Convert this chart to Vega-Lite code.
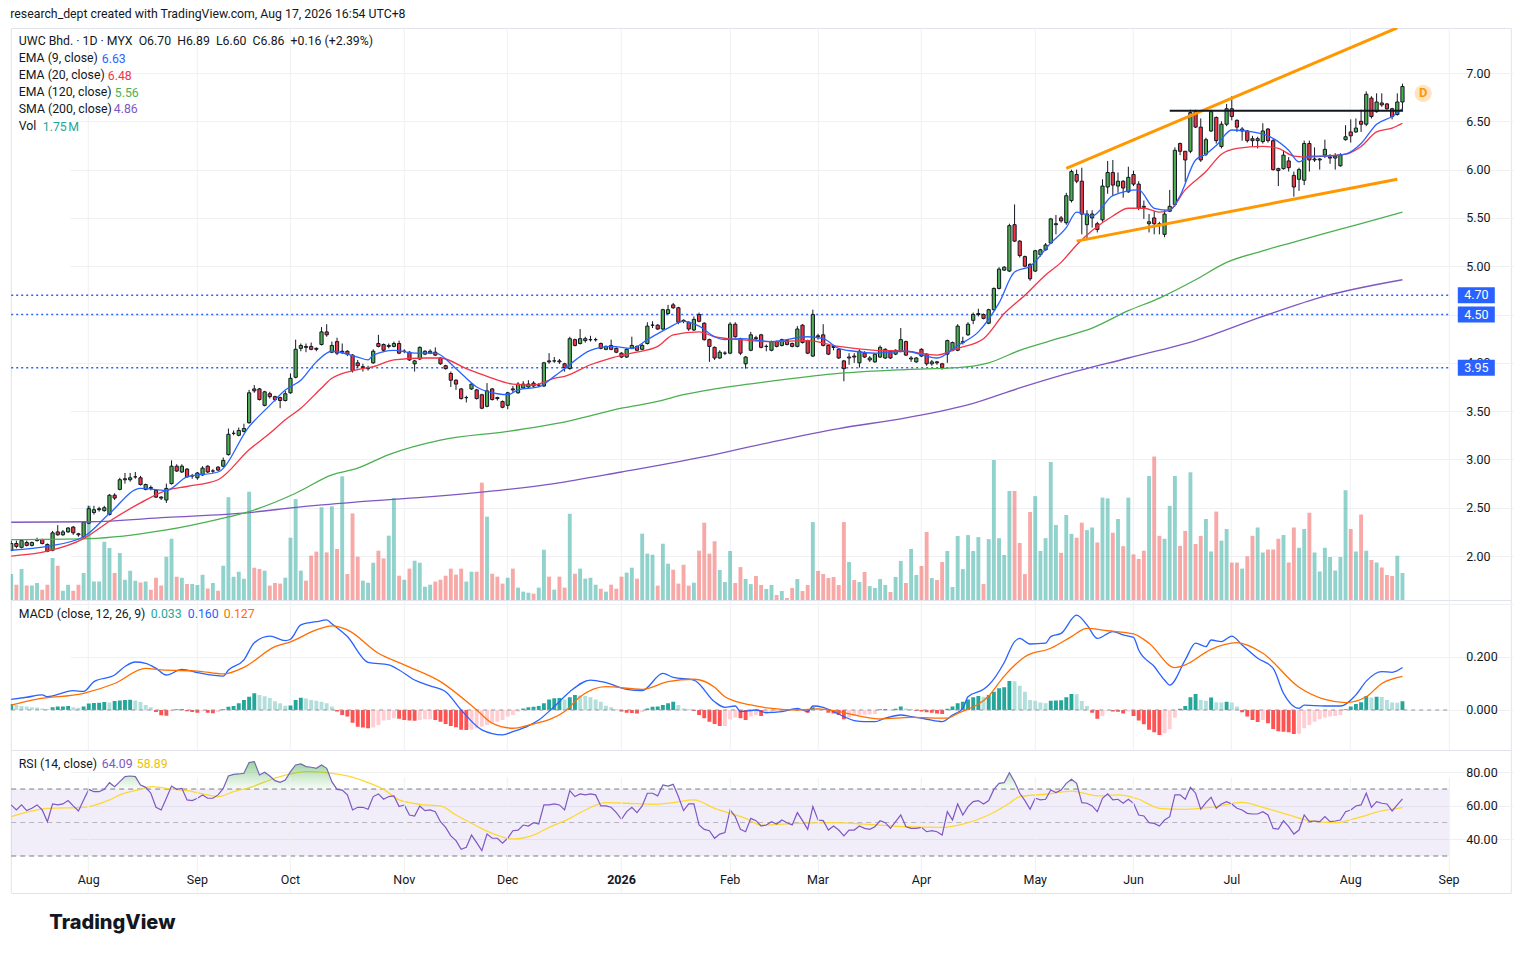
{
  "$schema": "https://vega.github.io/schema/vega-lite/v6.json",
  "background": "white",
  "padding": {"left": 7.8, "top": 8, "right": 10, "bottom": 10},
  "title": {"text": "research_dept created with TradingView.com, Aug 17, 2026 16:54 UTC+8", "anchor": "start", "fontSize": 12.3, "fontWeight": "normal", "color": "#131722", "offset": 7, "dx": 2.2},
  "bounds": "flush",
  "spacing": 0,
  "config": {
    "font": "Roboto",
    "view": {"stroke": "#e0e3eb"},
    "axis": {"labelFont": "Roboto", "labelFontSize": 12.5, "labelColor": "#131722", "gridColor": "#eef0f3", "domain": false, "ticks": false, "tickSize": 0},
    "text": {"font": "Roboto", "fontSize": 12.3}
  },
  "datasets": {
    "bars": [
      {"d":"2025-07-11","o":2.06,"h":2.16,"l":2.05,"c":2.13,"v":1.68,"m":0.023,"r":60.5},
      {"d":"2025-07-14","o":2.13,"h":2.16,"l":2.08,"c":2.10,"v":0.99,"m":0.019,"r":57.5},
      {"d":"2025-07-15","o":2.09,"h":2.17,"l":2.08,"c":2.16,"v":2.0,"m":0.015,"r":60.5},
      {"d":"2025-07-16","o":2.14,"h":2.16,"l":2.10,"c":2.11,"v":0.93,"m":0.013,"r":57.1},
      {"d":"2025-07-17","o":2.11,"h":2.15,"l":2.10,"c":2.14,"v":0.93,"m":0.010,"r":58.5},
      {"d":"2025-07-18","o":2.16,"h":2.19,"l":2.15,"c":2.17,"v":1.1,"m":0.009,"r":60.5},
      {"d":"2025-07-21","o":2.17,"h":2.18,"l":2.12,"c":2.13,"v":0.67,"m":0.006,"r":57.5},
      {"d":"2025-07-22","o":2.12,"h":2.13,"l":2.04,"c":2.05,"v":0.99,"m":0.004,"r":50.5},
      {"d":"2025-07-23","o":2.06,"h":2.26,"l":2.05,"c":2.24,"v":2.72,"m":0.010,"r":61.1},
      {"d":"2025-07-24","o":2.25,"h":2.32,"l":2.21,"c":2.22,"v":2.22,"m":0.013,"r":60.5},
      {"d":"2025-07-25","o":2.22,"h":2.27,"l":2.21,"c":2.25,"v":0.6,"m":0.013,"r":61.1},
      {"d":"2025-07-28","o":2.25,"h":2.30,"l":2.24,"c":2.29,"v":0.99,"m":0.015,"r":63.1},
      {"d":"2025-07-29","o":2.30,"h":2.31,"l":2.22,"c":2.24,"v":0.6,"m":0.010,"r":59.9},
      {"d":"2025-07-30","o":2.23,"h":2.24,"l":2.20,"c":2.22,"v":0.99,"m":0.008,"r":56.9},
      {"d":"2025-07-31","o":2.20,"h":2.36,"l":2.19,"c":2.35,"v":1.75,"m":0.013,"r":63.5},
      {"d":"2025-08-01","o":2.34,"h":2.52,"l":2.33,"c":2.49,"v":6.1,"m":0.024,"r":69.8},
      {"d":"2025-08-04","o":2.45,"h":2.52,"l":2.43,"c":2.48,"v":1.19,"m":0.026,"r":68.4},
      {"d":"2025-08-05","o":2.48,"h":2.51,"l":2.46,"c":2.49,"v":1.19,"m":0.027,"r":68.4},
      {"d":"2025-08-06","o":2.47,"h":2.52,"l":2.46,"c":2.50,"v":3.77,"m":0.030,"r":69.8},
      {"d":"2025-08-07","o":2.43,"h":2.64,"l":2.42,"c":2.63,"v":3.36,"m":0.028,"r":73.8},
      {"d":"2025-08-08","o":2.63,"h":2.65,"l":2.58,"c":2.60,"v":1.75,"m":0.034,"r":71.4},
      {"d":"2025-08-11","o":2.69,"h":2.81,"l":2.68,"c":2.79,"v":3.04,"m":0.036,"r":74.4},
      {"d":"2025-08-12","o":2.79,"h":2.86,"l":2.75,"c":2.80,"v":1.31,"m":0.038,"r":77.4},
      {"d":"2025-08-13","o":2.79,"h":2.86,"l":2.77,"c":2.81,"v":1.9,"m":0.039,"r":77.8},
      {"d":"2025-08-14","o":2.82,"h":2.87,"l":2.80,"c":2.82,"v":1.25,"m":0.036,"r":77.4},
      {"d":"2025-08-15","o":2.81,"h":2.83,"l":2.73,"c":2.74,"v":1.14,"m":0.030,"r":72.4},
      {"d":"2025-08-18","o":2.69,"h":2.75,"l":2.68,"c":2.74,"v":1.19,"m":0.019,"r":71.0},
      {"d":"2025-08-19","o":2.71,"h":2.73,"l":2.68,"c":2.70,"v":0.67,"m":0.010,"r":67.5},
      {"d":"2025-08-20","o":2.68,"h":2.69,"l":2.60,"c":2.61,"v":1.44,"m":-0.008,"r":59.1},
      {"d":"2025-08-21","o":2.61,"h":2.62,"l":2.58,"c":2.60,"v":0.93,"m":-0.020,"r":57.5},
      {"d":"2025-08-22","o":2.58,"h":2.75,"l":2.55,"c":2.70,"v":2.8,"m":-0.022,"r":64.5},
      {"d":"2025-08-25","o":2.75,"h":2.99,"l":2.74,"c":2.93,"v":3.97,"m":-0.005,"r":71.8},
      {"d":"2025-08-26","o":2.93,"h":2.95,"l":2.87,"c":2.88,"v":1.5,"m":0.003,"r":69.8},
      {"d":"2025-08-27","o":2.87,"h":2.95,"l":2.86,"c":2.93,"v":1.44,"m":0.004,"r":70.4},
      {"d":"2025-08-28","o":2.90,"h":2.91,"l":2.81,"c":2.82,"v":1.03,"m":-0.005,"r":63.5},
      {"d":"2025-08-29","o":2.83,"h":2.85,"l":2.80,"c":2.83,"v":1.03,"m":-0.008,"r":63.1},
      {"d":"2025-09-02","o":2.81,"h":2.87,"l":2.79,"c":2.86,"v":0.97,"m":-0.010,"r":64.5},
      {"d":"2025-09-03","o":2.84,"h":2.93,"l":2.83,"c":2.91,"v":1.64,"m":-0.005,"r":66.5},
      {"d":"2025-09-04","o":2.93,"h":2.94,"l":2.86,"c":2.87,"v":0.75,"m":-0.010,"r":64.5},
      {"d":"2025-09-08","o":2.88,"h":2.90,"l":2.86,"c":2.88,"v":1.1,"m":-0.012,"r":64.5},
      {"d":"2025-09-09","o":2.92,"h":2.93,"l":2.88,"c":2.89,"v":0.6,"m":-0.008,"r":66.5},
      {"d":"2025-09-10","o":2.93,"h":3.02,"l":2.92,"c":2.99,"v":2.22,"m":0.003,"r":70.4},
      {"d":"2025-09-11","o":3.05,"h":3.32,"l":3.04,"c":3.26,"v":6.64,"m":0.012,"r":77.8},
      {"d":"2025-09-12","o":3.27,"h":3.30,"l":3.25,"c":3.27,"v":1.5,"m":0.015,"r":78.8},
      {"d":"2025-09-17","o":3.25,"h":3.33,"l":3.24,"c":3.30,"v":1.83,"m":0.025,"r":79.0},
      {"d":"2025-09-18","o":3.29,"h":3.37,"l":3.28,"c":3.32,"v":1.38,"m":0.038,"r":79.4},
      {"d":"2025-09-19","o":3.38,"h":3.72,"l":3.37,"c":3.69,"v":7.0,"m":0.050,"r":85.8},
      {"d":"2025-09-22","o":3.73,"h":3.77,"l":3.69,"c":3.71,"v":2.09,"m":0.063,"r":86.4},
      {"d":"2025-09-23","o":3.73,"h":3.74,"l":3.61,"c":3.62,"v":2.0,"m":0.057,"r":78.4},
      {"d":"2025-09-24","o":3.56,"h":3.71,"l":3.55,"c":3.70,"v":1.9,"m":0.052,"r":80.0},
      {"d":"2025-09-25","o":3.68,"h":3.70,"l":3.63,"c":3.65,"v":0.93,"m":0.045,"r":77.8},
      {"d":"2025-09-26","o":3.65,"h":3.66,"l":3.60,"c":3.62,"v":1.1,"m":0.033,"r":75.0},
      {"d":"2025-09-29","o":3.64,"h":3.65,"l":3.53,"c":3.61,"v":1.06,"m":0.025,"r":74.0},
      {"d":"2025-09-30","o":3.61,"h":3.71,"l":3.60,"c":3.68,"v":1.44,"m":0.016,"r":75.4},
      {"d":"2025-10-01","o":3.69,"h":3.89,"l":3.68,"c":3.84,"v":4.03,"m":0.017,"r":80.4},
      {"d":"2025-10-02","o":3.85,"h":4.24,"l":3.84,"c":4.14,"v":6.53,"m":0.038,"r":84.4},
      {"d":"2025-10-03","o":4.15,"h":4.20,"l":4.12,"c":4.18,"v":1.9,"m":0.046,"r":85.0},
      {"d":"2025-10-06","o":4.17,"h":4.20,"l":4.11,"c":4.16,"v":1.25,"m":0.043,"r":83.4},
      {"d":"2025-10-07","o":4.17,"h":4.21,"l":4.13,"c":4.14,"v":2.87,"m":0.038,"r":83.0},
      {"d":"2025-10-08","o":4.15,"h":4.16,"l":4.12,"c":4.14,"v":3.13,"m":0.035,"r":82.4},
      {"d":"2025-10-09","o":4.19,"h":4.37,"l":4.18,"c":4.32,"v":6.0,"m":0.031,"r":84.4},
      {"d":"2025-10-10","o":4.32,"h":4.40,"l":4.27,"c":4.29,"v":3.08,"m":0.025,"r":82.4},
      {"d":"2025-10-13","o":4.11,"h":4.22,"l":4.10,"c":4.18,"v":6.06,"m":0.013,"r":74.4},
      {"d":"2025-10-14","o":4.22,"h":4.26,"l":4.08,"c":4.10,"v":3.3,"m":-0.006,"r":69.8},
      {"d":"2025-10-15","o":4.11,"h":4.20,"l":4.09,"c":4.12,"v":8.0,"m":-0.019,"r":69.4},
      {"d":"2025-10-16","o":4.12,"h":4.13,"l":4.07,"c":4.09,"v":1.68,"m":-0.025,"r":66.5},
      {"d":"2025-10-17","o":4.08,"h":4.09,"l":3.90,"c":3.92,"v":5.6,"m":-0.048,"r":57.5},
      {"d":"2025-10-21","o":4.00,"h":4.03,"l":3.95,"c":3.97,"v":2.8,"m":-0.063,"r":59.1},
      {"d":"2025-10-22","o":3.95,"h":3.99,"l":3.91,"c":3.96,"v":1.25,"m":-0.066,"r":59.1},
      {"d":"2025-10-23","o":3.94,"h":3.97,"l":3.92,"c":3.95,"v":1.12,"m":-0.069,"r":57.9},
      {"d":"2025-10-24","o":4.00,"h":4.14,"l":3.99,"c":4.12,"v":2.41,"m":-0.066,"r":65.5},
      {"d":"2025-10-27","o":4.20,"h":4.29,"l":4.16,"c":4.17,"v":3.19,"m":-0.057,"r":67.1},
      {"d":"2025-10-28","o":4.19,"h":4.20,"l":4.11,"c":4.13,"v":2.69,"m":-0.040,"r":63.9},
      {"d":"2025-10-29","o":4.17,"h":4.20,"l":4.15,"c":4.18,"v":4.16,"m":-0.038,"r":65.5},
      {"d":"2025-10-30","o":4.17,"h":4.22,"l":4.16,"c":4.20,"v":6.6,"m":-0.031,"r":65.9},
      {"d":"2025-10-31","o":4.20,"h":4.23,"l":4.09,"c":4.10,"v":1.57,"m":-0.033,"r":59.5},
      {"d":"2025-11-03","o":4.12,"h":4.14,"l":4.10,"c":4.12,"v":1.31,"m":-0.038,"r":60.5},
      {"d":"2025-11-04","o":4.11,"h":4.12,"l":4.02,"c":4.03,"v":2.03,"m":-0.040,"r":54.5},
      {"d":"2025-11-05","o":3.99,"h":4.03,"l":3.91,"c":4.02,"v":2.54,"m":-0.041,"r":53.9},
      {"d":"2025-11-06","o":4.04,"h":4.17,"l":4.03,"c":4.16,"v":2.41,"m":-0.038,"r":59.9},
      {"d":"2025-11-07","o":4.09,"h":4.13,"l":4.08,"c":4.12,"v":0.86,"m":-0.035,"r":57.1},
      {"d":"2025-11-10","o":4.10,"h":4.14,"l":4.09,"c":4.12,"v":0.99,"m":-0.035,"r":57.5},
      {"d":"2025-11-11","o":4.11,"h":4.16,"l":4.07,"c":4.08,"v":1.19,"m":-0.038,"r":56.5},
      {"d":"2025-11-12","o":4.05,"h":4.06,"l":3.98,"c":3.99,"v":1.31,"m":-0.044,"r":50.5},
      {"d":"2025-11-13","o":3.97,"h":3.98,"l":3.93,"c":3.94,"v":1.57,"m":-0.053,"r":47.1},
      {"d":"2025-11-14","o":3.89,"h":3.91,"l":3.75,"c":3.82,"v":2.03,"m":-0.060,"r":42.0},
      {"d":"2025-11-17","o":3.82,"h":3.83,"l":3.72,"c":3.78,"v":1.64,"m":-0.065,"r":39.2},
      {"d":"2025-11-18","o":3.73,"h":3.74,"l":3.62,"c":3.63,"v":2.03,"m":-0.075,"r":34.0},
      {"d":"2025-11-19","o":3.64,"h":3.66,"l":3.59,"c":3.64,"v":1.19,"m":-0.076,"r":35.2},
      {"d":"2025-11-20","o":3.73,"h":3.79,"l":3.72,"c":3.78,"v":1.83,"m":-0.074,"r":42.5},
      {"d":"2025-11-21","o":3.72,"h":3.73,"l":3.62,"c":3.63,"v":1.83,"m":-0.069,"r":38.0},
      {"d":"2025-11-24","o":3.67,"h":3.68,"l":3.52,"c":3.53,"v":7.59,"m":-0.062,"r":33.2},
      {"d":"2025-11-25","o":3.55,"h":3.79,"l":3.54,"c":3.71,"v":5.39,"m":-0.057,"r":43.1},
      {"d":"2025-11-26","o":3.73,"h":3.74,"l":3.61,"c":3.62,"v":1.7,"m":-0.050,"r":40.6},
      {"d":"2025-11-27","o":3.64,"h":3.65,"l":3.61,"c":3.63,"v":1.51,"m":-0.044,"r":40.6},
      {"d":"2025-11-28","o":3.60,"h":3.61,"l":3.53,"c":3.54,"v":1.06,"m":-0.038,"r":37.6},
      {"d":"2025-12-01","o":3.56,"h":3.70,"l":3.52,"c":3.69,"v":1.44,"m":-0.025,"r":40.6},
      {"d":"2025-12-02","o":3.73,"h":3.76,"l":3.69,"c":3.72,"v":2.03,"m":-0.019,"r":45.1},
      {"d":"2025-12-03","o":3.69,"h":3.80,"l":3.68,"c":3.78,"v":0.8,"m":-0.006,"r":45.5},
      {"d":"2025-12-04","o":3.74,"h":3.81,"l":3.73,"c":3.78,"v":0.54,"m":0.006,"r":48.5},
      {"d":"2025-12-05","o":3.75,"h":3.82,"l":3.74,"c":3.78,"v":0.47,"m":0.010,"r":47.9},
      {"d":"2025-12-08","o":3.79,"h":3.81,"l":3.75,"c":3.76,"v":0.41,"m":0.012,"r":49.9},
      {"d":"2025-12-09","o":3.77,"h":3.79,"l":3.75,"c":3.77,"v":0.8,"m":0.015,"r":49.1},
      {"d":"2025-12-10","o":3.76,"h":4.01,"l":3.75,"c":4.00,"v":3.25,"m":0.025,"r":60.5},
      {"d":"2025-12-11","o":4.02,"h":4.10,"l":3.99,"c":4.01,"v":1.51,"m":0.040,"r":60.5},
      {"d":"2025-12-12","o":4.02,"h":4.06,"l":4.00,"c":4.02,"v":0.67,"m":0.044,"r":61.1},
      {"d":"2025-12-15","o":4.02,"h":4.04,"l":3.99,"c":4.01,"v":1.51,"m":0.045,"r":60.5},
      {"d":"2025-12-16","o":3.99,"h":4.00,"l":3.91,"c":3.95,"v":0.8,"m":0.040,"r":57.5},
      {"d":"2025-12-17","o":3.94,"h":4.27,"l":3.93,"c":4.25,"v":5.58,"m":0.048,"r":69.0},
      {"d":"2025-12-18","o":4.24,"h":4.25,"l":4.17,"c":4.18,"v":1.7,"m":0.057,"r":65.5},
      {"d":"2025-12-19","o":4.20,"h":4.35,"l":4.19,"c":4.25,"v":2.03,"m":0.055,"r":67.1},
      {"d":"2025-12-22","o":4.23,"h":4.27,"l":4.21,"c":4.25,"v":1.38,"m":0.053,"r":66.5},
      {"d":"2025-12-23","o":4.24,"h":4.28,"l":4.22,"c":4.24,"v":1.44,"m":0.048,"r":67.1},
      {"d":"2025-12-24","o":4.24,"h":4.26,"l":4.22,"c":4.24,"v":0.99,"m":0.040,"r":66.5},
      {"d":"2025-12-26","o":4.20,"h":4.21,"l":4.14,"c":4.15,"v":0.73,"m":0.031,"r":59.9},
      {"d":"2025-12-29","o":4.14,"h":4.18,"l":4.13,"c":4.17,"v":0.54,"m":0.016,"r":59.9},
      {"d":"2025-12-30","o":4.18,"h":4.24,"l":4.13,"c":4.14,"v":0.99,"m":0.010,"r":59.1},
      {"d":"2025-12-31","o":4.15,"h":4.16,"l":4.10,"c":4.11,"v":0.73,"m":0.003,"r":55.9},
      {"d":"2026-01-02","o":4.10,"h":4.11,"l":4.05,"c":4.06,"v":1.51,"m":-0.006,"r":51.9},
      {"d":"2026-01-05","o":4.06,"h":4.15,"l":4.05,"c":4.14,"v":1.77,"m":-0.010,"r":56.5},
      {"d":"2026-01-06","o":4.15,"h":4.27,"l":4.14,"c":4.18,"v":2.09,"m":-0.011,"r":59.1},
      {"d":"2026-01-07","o":4.17,"h":4.18,"l":4.12,"c":4.13,"v":1.38,"m":-0.013,"r":55.9},
      {"d":"2026-01-08","o":4.14,"h":4.20,"l":4.13,"c":4.18,"v":4.29,"m":-0.008,"r":59.9},
      {"d":"2026-01-09","o":4.20,"h":4.42,"l":4.19,"c":4.38,"v":3.0,"m":0.006,"r":67.5},
      {"d":"2026-01-12","o":4.39,"h":4.43,"l":4.36,"c":4.39,"v":2.93,"m":0.012,"r":67.5},
      {"d":"2026-01-13","o":4.39,"h":4.40,"l":4.34,"c":4.35,"v":0.93,"m":0.013,"r":65.9},
      {"d":"2026-01-14","o":4.35,"h":4.56,"l":4.34,"c":4.55,"v":3.64,"m":0.019,"r":72.4},
      {"d":"2026-01-15","o":4.51,"h":4.60,"l":4.50,"c":4.55,"v":2.35,"m":0.025,"r":71.8},
      {"d":"2026-01-16","o":4.60,"h":4.62,"l":4.56,"c":4.57,"v":1.96,"m":0.031,"r":72.8},
      {"d":"2026-01-19","o":4.57,"h":4.58,"l":4.40,"c":4.42,"v":1.06,"m":0.019,"r":65.5},
      {"d":"2026-01-20","o":4.44,"h":4.45,"l":4.41,"c":4.43,"v":2.28,"m":0.006,"r":57.1},
      {"d":"2026-01-21","o":4.42,"h":4.43,"l":4.33,"c":4.35,"v":0.93,"m":0.003,"r":61.1},
      {"d":"2026-01-22","o":4.34,"h":4.48,"l":4.33,"c":4.45,"v":1.12,"m":-0.004,"r":61.1},
      {"d":"2026-01-23","o":4.50,"h":4.52,"l":4.42,"c":4.43,"v":3.19,"m":-0.019,"r":48.5},
      {"d":"2026-01-26","o":4.41,"h":4.42,"l":4.23,"c":4.24,"v":5.0,"m":-0.031,"r":45.9},
      {"d":"2026-01-27","o":4.24,"h":4.25,"l":4.01,"c":4.17,"v":3.0,"m":-0.044,"r":45.1},
      {"d":"2026-01-28","o":4.16,"h":4.17,"l":4.03,"c":4.05,"v":3.8,"m":-0.053,"r":40.6},
      {"d":"2026-01-29","o":4.05,"h":4.13,"l":4.04,"c":4.11,"v":1.94,"m":-0.060,"r":43.1},
      {"d":"2026-01-30","o":4.10,"h":4.12,"l":4.08,"c":4.10,"v":1.16,"m":-0.060,"r":44.0},
      {"d":"2026-02-03","o":4.10,"h":4.42,"l":4.09,"c":4.40,"v":3.17,"m":-0.035,"r":57.5},
      {"d":"2026-02-04","o":4.40,"h":4.42,"l":4.26,"c":4.27,"v":1.1,"m":-0.028,"r":53.5},
      {"d":"2026-02-05","o":4.25,"h":4.26,"l":4.08,"c":4.10,"v":2.13,"m":-0.031,"r":45.9},
      {"d":"2026-02-06","o":3.99,"h":4.07,"l":3.94,"c":4.06,"v":1.36,"m":-0.038,"r":44.5},
      {"d":"2026-02-09","o":4.13,"h":4.32,"l":4.12,"c":4.29,"v":1.03,"m":-0.025,"r":52.5},
      {"d":"2026-02-10","o":4.26,"h":4.28,"l":4.23,"c":4.25,"v":1.55,"m":-0.019,"r":51.1},
      {"d":"2026-02-11","o":4.29,"h":4.30,"l":4.15,"c":4.16,"v":0.97,"m":-0.023,"r":47.9},
      {"d":"2026-02-12","o":4.17,"h":4.19,"l":4.12,"c":4.17,"v":0.71,"m":-0.015,"r":48.5},
      {"d":"2026-02-13","o":4.13,"h":4.23,"l":4.12,"c":4.22,"v":0.97,"m":-0.010,"r":50.5},
      {"d":"2026-02-16","o":4.22,"h":4.23,"l":4.16,"c":4.17,"v":0.32,"m":-0.006,"r":49.1},
      {"d":"2026-02-19","o":4.18,"h":4.25,"l":4.17,"c":4.24,"v":0.58,"m":-0.006,"r":51.5},
      {"d":"2026-02-20","o":4.23,"h":4.24,"l":4.18,"c":4.19,"v":0.13,"m":-0.003,"r":49.9},
      {"d":"2026-02-23","o":4.20,"h":4.21,"l":4.16,"c":4.17,"v":0.78,"m":0.004,"r":48.5},
      {"d":"2026-02-24","o":4.17,"h":4.38,"l":4.16,"c":4.35,"v":1.36,"m":0.006,"r":55.9},
      {"d":"2026-02-25","o":4.39,"h":4.40,"l":4.20,"c":4.21,"v":0.58,"m":0.004,"r":51.1},
      {"d":"2026-02-26","o":4.23,"h":4.24,"l":4.09,"c":4.10,"v":0.97,"m":-0.010,"r":45.9},
      {"d":"2026-02-27","o":4.07,"h":4.55,"l":4.06,"c":4.50,"v":5.04,"m":0.010,"r":59.5},
      {"d":"2026-03-02","o":4.28,"h":4.30,"l":4.24,"c":4.27,"v":1.88,"m":0.006,"r":51.5},
      {"d":"2026-03-03","o":4.29,"h":4.40,"l":4.17,"c":4.18,"v":1.68,"m":0.003,"r":51.1},
      {"d":"2026-03-04","o":4.18,"h":4.19,"l":4.08,"c":4.09,"v":1.42,"m":-0.010,"r":45.5},
      {"d":"2026-03-05","o":4.17,"h":4.18,"l":4.13,"c":4.16,"v":1.49,"m":-0.013,"r":47.9},
      {"d":"2026-03-06","o":4.14,"h":4.15,"l":4.04,"c":4.05,"v":0.97,"m":-0.019,"r":45.5},
      {"d":"2026-03-09","o":4.02,"h":4.03,"l":3.81,"c":3.94,"v":5.04,"m":-0.035,"r":42.0},
      {"d":"2026-03-10","o":4.05,"h":4.10,"l":3.98,"c":4.06,"v":2.46,"m":-0.028,"r":45.5},
      {"d":"2026-03-11","o":4.07,"h":4.10,"l":4.00,"c":4.06,"v":1.29,"m":-0.023,"r":45.5},
      {"d":"2026-03-12","o":4.00,"h":4.14,"l":3.95,"c":4.12,"v":1.16,"m":-0.019,"r":47.9},
      {"d":"2026-03-13","o":4.10,"h":4.12,"l":4.05,"c":4.06,"v":1.81,"m":-0.018,"r":46.5},
      {"d":"2026-03-16","o":4.03,"h":4.07,"l":4.01,"c":4.05,"v":0.9,"m":-0.017,"r":45.9},
      {"d":"2026-03-17","o":4.01,"h":4.10,"l":4.00,"c":4.09,"v":0.78,"m":-0.015,"r":47.5},
      {"d":"2026-03-18","o":4.06,"h":4.18,"l":4.05,"c":4.16,"v":1.36,"m":0.003,"r":51.1},
      {"d":"2026-03-19","o":4.05,"h":4.15,"l":4.04,"c":4.14,"v":0.97,"m":0.004,"r":49.9},
      {"d":"2026-03-24","o":4.12,"h":4.13,"l":4.04,"c":4.05,"v":0.52,"m":0.001,"r":46.5},
      {"d":"2026-03-25","o":4.09,"h":4.14,"l":4.08,"c":4.13,"v":1.49,"m":0.005,"r":50.5},
      {"d":"2026-03-26","o":4.12,"h":4.36,"l":4.11,"c":4.24,"v":2.52,"m":0.013,"r":54.5},
      {"d":"2026-03-27","o":4.22,"h":4.23,"l":4.07,"c":4.08,"v":1.1,"m":0.006,"r":47.5},
      {"d":"2026-03-30","o":4.04,"h":4.07,"l":4.01,"c":4.05,"v":3.3,"m":0.004,"r":46.5},
      {"d":"2026-03-31","o":4.01,"h":4.06,"l":4.00,"c":4.05,"v":1.62,"m":-0.004,"r":46.5},
      {"d":"2026-04-01","o":4.14,"h":4.15,"l":4.06,"c":4.07,"v":2.2,"m":-0.006,"r":47.1},
      {"d":"2026-04-02","o":4.09,"h":4.10,"l":3.97,"c":3.99,"v":4.4,"m":-0.009,"r":44.5},
      {"d":"2026-04-03","o":3.99,"h":4.03,"l":3.97,"c":4.01,"v":1.42,"m":-0.010,"r":45.1},
      {"d":"2026-04-06","o":4.01,"h":4.02,"l":3.98,"c":4.00,"v":1.29,"m":-0.013,"r":44.5},
      {"d":"2026-04-07","o":3.99,"h":4.00,"l":3.93,"c":3.95,"v":2.46,"m":-0.015,"r":42.5},
      {"d":"2026-04-08","o":4.09,"h":4.24,"l":4.00,"c":4.23,"v":3.17,"m":0.005,"r":56.5},
      {"d":"2026-04-09","o":4.13,"h":4.22,"l":4.12,"c":4.21,"v":0.84,"m":0.013,"r":51.5},
      {"d":"2026-04-10","o":4.13,"h":4.40,"l":4.12,"c":4.38,"v":4.14,"m":0.025,"r":61.1},
      {"d":"2026-04-13","o":4.21,"h":4.27,"l":4.19,"c":4.22,"v":2.0,"m":0.031,"r":54.5},
      {"d":"2026-04-14","o":4.29,"h":4.42,"l":4.28,"c":4.40,"v":4.2,"m":0.040,"r":59.5},
      {"d":"2026-04-15","o":4.44,"h":4.52,"l":4.40,"c":4.50,"v":3.17,"m":0.048,"r":62.5},
      {"d":"2026-04-16","o":4.50,"h":4.56,"l":4.48,"c":4.51,"v":4.07,"m":0.053,"r":63.1},
      {"d":"2026-04-17","o":4.50,"h":4.51,"l":4.45,"c":4.46,"v":1.03,"m":0.050,"r":61.1},
      {"d":"2026-04-20","o":4.41,"h":4.56,"l":4.40,"c":4.55,"v":3.94,"m":0.057,"r":63.1},
      {"d":"2026-04-21","o":4.55,"h":4.78,"l":4.54,"c":4.77,"v":9.05,"m":0.069,"r":69.8},
      {"d":"2026-04-22","o":4.77,"h":4.99,"l":4.76,"c":4.97,"v":4.0,"m":0.082,"r":73.4},
      {"d":"2026-04-23","o":4.96,"h":5.00,"l":4.95,"c":4.99,"v":2.91,"m":0.086,"r":73.8},
      {"d":"2026-04-24","o":4.95,"h":5.44,"l":4.94,"c":5.42,"v":7.05,"m":0.109,"r":79.8},
      {"d":"2026-04-27","o":5.43,"h":5.64,"l":5.25,"c":5.26,"v":7.05,"m":0.108,"r":74.4},
      {"d":"2026-04-28","o":5.26,"h":5.27,"l":5.09,"c":5.11,"v":3.69,"m":0.091,"r":67.5},
      {"d":"2026-04-29","o":5.10,"h":5.11,"l":4.99,"c":5.00,"v":1.68,"m":0.069,"r":63.1},
      {"d":"2026-04-30","o":5.02,"h":5.03,"l":4.85,"c":4.87,"v":5.69,"m":0.038,"r":57.9},
      {"d":"2026-05-04","o":4.95,"h":5.17,"l":4.94,"c":5.16,"v":6.72,"m":0.035,"r":64.5},
      {"d":"2026-05-05","o":5.12,"h":5.18,"l":5.10,"c":5.17,"v":3.17,"m":0.028,"r":63.5},
      {"d":"2026-05-06","o":5.17,"h":5.24,"l":5.16,"c":5.22,"v":4.0,"m":0.025,"r":63.9},
      {"d":"2026-05-07","o":5.24,"h":5.50,"l":5.23,"c":5.49,"v":8.92,"m":0.035,"r":69.4},
      {"d":"2026-05-08","o":5.43,"h":5.53,"l":5.33,"c":5.44,"v":4.85,"m":0.036,"r":67.9},
      {"d":"2026-05-11","o":5.50,"h":5.52,"l":5.45,"c":5.47,"v":3.05,"m":0.037,"r":69.4},
      {"d":"2026-05-12","o":5.45,"h":5.76,"l":5.43,"c":5.73,"v":5.5,"m":0.048,"r":73.4},
      {"d":"2026-05-13","o":5.68,"h":6.00,"l":5.66,"c":5.98,"v":4.28,"m":0.060,"r":75.8},
      {"d":"2026-05-14","o":5.95,"h":6.00,"l":5.86,"c":5.88,"v":4.03,"m":0.059,"r":73.4},
      {"d":"2026-05-15","o":5.88,"h":6.02,"l":5.33,"c":5.54,"v":5.0,"m":0.034,"r":61.9},
      {"d":"2026-05-18","o":5.43,"h":5.58,"l":5.28,"c":5.54,"v":4.52,"m":0.015,"r":61.5},
      {"d":"2026-05-19","o":5.50,"h":5.58,"l":5.40,"c":5.54,"v":4.69,"m":-0.010,"r":59.9},
      {"d":"2026-05-20","o":5.44,"h":5.46,"l":5.35,"c":5.38,"v":3.72,"m":-0.033,"r":56.5},
      {"d":"2026-05-21","o":5.48,"h":5.90,"l":5.46,"c":5.83,"v":6.62,"m":-0.023,"r":64.5},
      {"d":"2026-05-22","o":5.82,"h":6.09,"l":5.75,"c":5.97,"v":6.57,"m":-0.003,"r":67.1},
      {"d":"2026-05-25","o":5.97,"h":6.10,"l":5.73,"c":5.84,"v":4.35,"m":-0.006,"r":63.5},
      {"d":"2026-05-26","o":5.83,"h":5.97,"l":5.76,"c":5.88,"v":5.24,"m":-0.007,"r":63.9},
      {"d":"2026-05-28","o":5.88,"h":5.89,"l":5.71,"c":5.81,"v":3.48,"m":-0.013,"r":61.5},
      {"d":"2026-05-29","o":5.77,"h":6.03,"l":5.76,"c":5.92,"v":6.62,"m":-0.006,"r":63.9},
      {"d":"2026-06-02","o":5.95,"h":5.99,"l":5.83,"c":5.85,"v":2.95,"m":-0.023,"r":61.5},
      {"d":"2026-06-03","o":5.85,"h":5.88,"l":5.58,"c":5.60,"v":2.66,"m":-0.040,"r":54.5},
      {"d":"2026-06-04","o":5.62,"h":5.68,"l":5.49,"c":5.61,"v":3.19,"m":-0.054,"r":53.9},
      {"d":"2026-06-05","o":5.44,"h":5.54,"l":5.35,"c":5.46,"v":8.02,"m":-0.075,"r":49.9},
      {"d":"2026-06-08","o":5.50,"h":5.57,"l":5.33,"c":5.44,"v":9.28,"m":-0.084,"r":49.5},
      {"d":"2026-06-09","o":5.44,"h":5.46,"l":5.33,"c":5.42,"v":4.15,"m":-0.094,"r":47.9},
      {"d":"2026-06-10","o":5.33,"h":5.58,"l":5.30,"c":5.54,"v":3.96,"m":-0.088,"r":51.5},
      {"d":"2026-06-11","o":5.57,"h":5.79,"l":5.56,"c":5.62,"v":6.09,"m":-0.073,"r":53.5},
      {"d":"2026-06-12","o":5.64,"h":6.23,"l":5.62,"c":6.20,"v":8.02,"m":-0.029,"r":66.5},
      {"d":"2026-06-15","o":6.27,"h":6.28,"l":6.15,"c":6.19,"v":3.5,"m":0.005,"r":66.5},
      {"d":"2026-06-18","o":6.19,"h":6.19,"l":5.87,"c":6.10,"v":4.47,"m":0.015,"r":63.9},
      {"d":"2026-06-19","o":6.19,"h":6.62,"l":6.17,"c":6.59,"v":8.26,"m":0.048,"r":71.0},
      {"d":"2026-06-22","o":6.60,"h":6.62,"l":6.43,"c":6.44,"v":3.62,"m":0.060,"r":67.5},
      {"d":"2026-06-23","o":6.44,"h":6.53,"l":6.08,"c":6.10,"v":4.15,"m":0.038,"r":57.9},
      {"d":"2026-06-24","o":6.16,"h":6.33,"l":6.14,"c":6.31,"v":5.24,"m":0.035,"r":61.9},
      {"d":"2026-06-25","o":6.40,"h":6.62,"l":6.39,"c":6.60,"v":3.14,"m":0.047,"r":65.1},
      {"d":"2026-06-26","o":6.54,"h":6.55,"l":6.27,"c":6.30,"v":5.72,"m":0.029,"r":58.5},
      {"d":"2026-06-29","o":6.24,"h":6.50,"l":6.22,"c":6.47,"v":3.84,"m":0.028,"r":61.1},
      {"d":"2026-06-30","o":6.47,"h":6.68,"l":6.45,"c":6.63,"v":4.59,"m":0.031,"r":62.5},
      {"d":"2026-07-01","o":6.63,"h":6.76,"l":6.51,"c":6.55,"v":2.42,"m":0.028,"r":61.1},
      {"d":"2026-07-02","o":6.51,"h":6.52,"l":6.39,"c":6.44,"v":2.42,"m":0.013,"r":58.5},
      {"d":"2026-07-03","o":6.40,"h":6.44,"l":6.30,"c":6.42,"v":2.03,"m":-0.009,"r":57.5},
      {"d":"2026-07-06","o":6.40,"h":6.41,"l":6.28,"c":6.30,"v":2.83,"m":-0.025,"r":55.5},
      {"d":"2026-07-07","o":6.32,"h":6.35,"l":6.24,"c":6.30,"v":4.15,"m":-0.038,"r":55.1},
      {"d":"2026-07-08","o":6.30,"h":6.34,"l":6.22,"c":6.32,"v":4.69,"m":-0.045,"r":55.1},
      {"d":"2026-07-09","o":6.29,"h":6.48,"l":6.27,"c":6.40,"v":3.07,"m":-0.038,"r":56.5},
      {"d":"2026-07-10","o":6.42,"h":6.43,"l":6.28,"c":6.30,"v":3.26,"m":-0.050,"r":54.5},
      {"d":"2026-07-13","o":6.30,"h":6.32,"l":5.99,"c":6.00,"v":3.26,"m":-0.072,"r":46.5},
      {"d":"2026-07-14","o":6.01,"h":6.02,"l":5.83,"c":5.99,"v":3.96,"m":-0.080,"r":46.1},
      {"d":"2026-07-15","o":6.01,"h":6.20,"l":6.00,"c":6.15,"v":4.2,"m":-0.082,"r":51.1},
      {"d":"2026-07-16","o":6.09,"h":6.13,"l":5.98,"c":6.02,"v":2.42,"m":-0.084,"r":47.5},
      {"d":"2026-07-17","o":5.94,"h":5.98,"l":5.72,"c":5.82,"v":4.69,"m":-0.091,"r":43.1},
      {"d":"2026-07-20","o":5.90,"h":6.02,"l":5.78,"c":6.00,"v":3.38,"m":-0.090,"r":45.5},
      {"d":"2026-07-21","o":5.89,"h":6.30,"l":5.84,"c":6.27,"v":4.59,"m":-0.069,"r":54.5},
      {"d":"2026-07-22","o":6.27,"h":6.30,"l":5.98,"c":6.10,"v":5.65,"m":-0.057,"r":50.5},
      {"d":"2026-07-23","o":6.10,"h":6.23,"l":6.08,"c":6.11,"v":3.07,"m":-0.044,"r":50.9},
      {"d":"2026-07-24","o":6.10,"h":6.12,"l":6.00,"c":6.11,"v":1.84,"m":-0.035,"r":50.5},
      {"d":"2026-07-27","o":6.15,"h":6.31,"l":6.12,"c":6.21,"v":3.38,"m":-0.028,"r":53.5},
      {"d":"2026-07-28","o":6.12,"h":6.16,"l":6.06,"c":6.13,"v":2.78,"m":-0.025,"r":50.5},
      {"d":"2026-07-29","o":6.12,"h":6.17,"l":6.00,"c":6.14,"v":1.91,"m":-0.023,"r":50.9},
      {"d":"2026-07-30","o":6.04,"h":6.17,"l":6.03,"c":6.15,"v":2.78,"m":-0.019,"r":51.5},
      {"d":"2026-07-31","o":6.31,"h":6.46,"l":6.30,"c":6.34,"v":7.1,"m":0.003,"r":56.5},
      {"d":"2026-08-03","o":6.39,"h":6.52,"l":6.28,"c":6.35,"v":4.59,"m":0.013,"r":57.5},
      {"d":"2026-08-04","o":6.39,"h":6.53,"l":6.38,"c":6.43,"v":3.14,"m":0.023,"r":59.9},
      {"d":"2026-08-05","o":6.50,"h":6.62,"l":6.39,"c":6.47,"v":5.53,"m":0.029,"r":60.5},
      {"d":"2026-08-06","o":6.47,"h":6.81,"l":6.45,"c":6.78,"v":3.19,"m":0.053,"r":67.5},
      {"d":"2026-08-07","o":6.74,"h":6.76,"l":6.53,"c":6.55,"v":2.58,"m":0.047,"r":59.1},
      {"d":"2026-08-10","o":6.60,"h":6.79,"l":6.59,"c":6.70,"v":2.42,"m":0.050,"r":62.5},
      {"d":"2026-08-11","o":6.69,"h":6.79,"l":6.65,"c":6.67,"v":2.1,"m":0.049,"r":61.5},
      {"d":"2026-08-12","o":6.68,"h":6.69,"l":6.62,"c":6.63,"v":1.62,"m":0.038,"r":61.1},
      {"d":"2026-08-13","o":6.63,"h":6.64,"l":6.52,"c":6.55,"v":1.55,"m":0.028,"r":56.9},
      {"d":"2026-08-14","o":6.57,"h":6.79,"l":6.56,"c":6.70,"v":2.87,"m":0.027,"r":60.5},
      {"d":"2026-08-17","o":6.70,"h":6.89,"l":6.60,"c":6.86,"v":1.75,"m":0.033,"r":64.09}
    ],
    "ind": [
      {"d":"2025-07-11","k":"e9","v":2.06},{"d":"2025-07-22","k":"e9","v":2.10},{"d":"2025-07-31","k":"e9","v":2.20},{"d":"2025-08-07","k":"e9","v":2.44},
      {"d":"2025-08-15","k":"e9","v":2.70},{"d":"2025-08-22","k":"e9","v":2.68},{"d":"2025-08-28","k":"e9","v":2.82},{"d":"2025-09-09","k":"e9","v":2.87},
      {"d":"2025-09-19","k":"e9","v":3.34},{"d":"2025-09-25","k":"e9","v":3.56},{"d":"2025-09-30","k":"e9","v":3.72},{"d":"2025-10-03","k":"e9","v":3.82},
      {"d":"2025-10-08","k":"e9","v":4.01},{"d":"2025-10-13","k":"e9","v":4.12},{"d":"2025-10-21","k":"e9","v":4.06},{"d":"2025-10-23","k":"e9","v":4.03},
      {"d":"2025-10-24","k":"e9","v":4.08},{"d":"2025-10-30","k":"e9","v":4.13},{"d":"2025-11-05","k":"e9","v":4.10},{"d":"2025-11-11","k":"e9","v":4.10},
      {"d":"2025-11-17","k":"e9","v":3.94},{"d":"2025-11-21","k":"e9","v":3.75},{"d":"2025-11-27","k":"e9","v":3.68},{"d":"2025-12-01","k":"e9","v":3.67},
      {"d":"2025-12-03","k":"e9","v":3.72},{"d":"2025-12-09","k":"e9","v":3.75},{"d":"2025-12-12","k":"e9","v":3.86},{"d":"2025-12-16","k":"e9","v":3.94},
      {"d":"2025-12-23","k":"e9","v":4.13},{"d":"2025-12-30","k":"e9","v":4.17},{"d":"2026-01-06","k":"e9","v":4.15},{"d":"2026-01-09","k":"e9","v":4.24},
      {"d":"2026-01-15","k":"e9","v":4.36},{"d":"2026-01-20","k":"e9","v":4.43},{"d":"2026-01-23","k":"e9","v":4.38},{"d":"2026-01-28","k":"e9","v":4.27},
      {"d":"2026-01-30","k":"e9","v":4.24},{"d":"2026-02-05","k":"e9","v":4.25},{"d":"2026-02-13","k":"e9","v":4.22},{"d":"2026-02-26","k":"e9","v":4.27},
      {"d":"2026-03-03","k":"e9","v":4.25},{"d":"2026-03-06","k":"e9","v":4.15},{"d":"2026-03-11","k":"e9","v":4.12},{"d":"2026-03-17","k":"e9","v":4.10},
      {"d":"2026-03-27","k":"e9","v":4.12},{"d":"2026-04-06","k":"e9","v":4.05},{"d":"2026-04-10","k":"e9","v":4.18},{"d":"2026-04-16","k":"e9","v":4.32},
      {"d":"2026-04-22","k":"e9","v":4.62},{"d":"2026-04-27","k":"e9","v":4.94},{"d":"2026-04-30","k":"e9","v":5.00},{"d":"2026-05-07","k":"e9","v":5.24},
      {"d":"2026-05-12","k":"e9","v":5.40},{"d":"2026-05-14","k":"e9","v":5.56},{"d":"2026-05-19","k":"e9","v":5.52},{"d":"2026-05-25","k":"e9","v":5.73},
      {"d":"2026-06-03","k":"e9","v":5.79},{"d":"2026-06-08","k":"e9","v":5.60},{"d":"2026-06-11","k":"e9","v":5.58},{"d":"2026-06-15","k":"e9","v":5.73},
      {"d":"2026-06-22","k":"e9","v":6.10},{"d":"2026-06-24","k":"e9","v":6.16},{"d":"2026-06-26","k":"e9","v":6.25},{"d":"2026-07-01","k":"e9","v":6.41},
      {"d":"2026-07-07","k":"e9","v":6.39},{"d":"2026-07-10","k":"e9","v":6.35},{"d":"2026-07-16","k":"e9","v":6.20},{"d":"2026-07-20","k":"e9","v":6.08},
      {"d":"2026-07-22","k":"e9","v":6.14},{"d":"2026-07-27","k":"e9","v":6.14},{"d":"2026-07-31","k":"e9","v":6.16},{"d":"2026-08-05","k":"e9","v":6.27},
      {"d":"2026-08-10","k":"e9","v":6.47},{"d":"2026-08-13","k":"e9","v":6.55},{"d":"2026-08-17","k":"e9","v":6.63},

      {"d":"2025-07-11","k":"e20","v":2.00},{"d":"2025-07-22","k":"e20","v":2.05},{"d":"2025-07-31","k":"e20","v":2.18},{"d":"2025-08-07","k":"e20","v":2.36},
      {"d":"2025-08-15","k":"e20","v":2.55},{"d":"2025-08-22","k":"e20","v":2.68},{"d":"2025-08-28","k":"e20","v":2.72},{"d":"2025-09-09","k":"e20","v":2.79},
      {"d":"2025-09-19","k":"e20","v":3.10},{"d":"2025-09-25","k":"e20","v":3.27},{"d":"2025-09-30","k":"e20","v":3.41},{"d":"2025-10-03","k":"e20","v":3.53},
      {"d":"2025-10-09","k":"e20","v":3.74},{"d":"2025-10-13","k":"e20","v":3.84},{"d":"2025-10-21","k":"e20","v":3.93},{"d":"2025-10-24","k":"e20","v":3.96},
      {"d":"2025-10-30","k":"e20","v":4.03},{"d":"2025-11-07","k":"e20","v":4.05},{"d":"2025-11-12","k":"e20","v":4.05},{"d":"2025-11-19","k":"e20","v":3.94},
      {"d":"2025-11-25","k":"e20","v":3.86},{"d":"2025-12-02","k":"e20","v":3.78},{"d":"2025-12-08","k":"e20","v":3.77},{"d":"2025-12-12","k":"e20","v":3.84},
      {"d":"2025-12-16","k":"e20","v":3.86},{"d":"2025-12-23","k":"e20","v":3.98},{"d":"2025-12-30","k":"e20","v":4.05},{"d":"2026-01-06","k":"e20","v":4.10},
      {"d":"2026-01-13","k":"e20","v":4.17},{"d":"2026-01-16","k":"e20","v":4.29},{"d":"2026-01-23","k":"e20","v":4.32},{"d":"2026-01-28","k":"e20","v":4.27},
      {"d":"2026-02-05","k":"e20","v":4.24},{"d":"2026-02-13","k":"e20","v":4.22},{"d":"2026-02-26","k":"e20","v":4.23},{"d":"2026-03-06","k":"e20","v":4.17},
      {"d":"2026-03-17","k":"e20","v":4.13},{"d":"2026-03-27","k":"e20","v":4.12},{"d":"2026-04-06","k":"e20","v":4.08},{"d":"2026-04-10","k":"e20","v":4.15},
      {"d":"2026-04-17","k":"e20","v":4.25},{"d":"2026-04-23","k":"e20","v":4.51},{"d":"2026-04-29","k":"e20","v":4.70},{"d":"2026-05-06","k":"e20","v":4.91},
      {"d":"2026-05-11","k":"e20","v":5.04},{"d":"2026-05-14","k":"e20","v":5.22},{"d":"2026-05-19","k":"e20","v":5.37},{"d":"2026-05-25","k":"e20","v":5.52},
      {"d":"2026-05-29","k":"e20","v":5.60},{"d":"2026-06-04","k":"e20","v":5.60},{"d":"2026-06-09","k":"e20","v":5.56},{"d":"2026-06-11","k":"e20","v":5.58},
      {"d":"2026-06-18","k":"e20","v":5.79},{"d":"2026-06-24","k":"e20","v":5.98},{"d":"2026-06-29","k":"e20","v":6.16},{"d":"2026-07-02","k":"e20","v":6.22},
      {"d":"2026-07-09","k":"e20","v":6.24},{"d":"2026-07-14","k":"e20","v":6.22},{"d":"2026-07-17","k":"e20","v":6.14},{"d":"2026-07-22","k":"e20","v":6.13},
      {"d":"2026-07-27","k":"e20","v":6.14},{"d":"2026-07-31","k":"e20","v":6.16},{"d":"2026-08-05","k":"e20","v":6.24},{"d":"2026-08-10","k":"e20","v":6.39},
      {"d":"2026-08-13","k":"e20","v":6.43},{"d":"2026-08-17","k":"e20","v":6.48},

      {"d":"2025-07-11","k":"e120","v":2.17},{"d":"2025-08-01","k":"e120","v":2.18},{"d":"2025-08-22","k":"e120","v":2.27},{"d":"2025-09-09","k":"e120","v":2.38},
      {"d":"2025-09-19","k":"e120","v":2.46},{"d":"2025-10-02","k":"e120","v":2.65},{"d":"2025-10-13","k":"e120","v":2.84},{"d":"2025-10-21","k":"e120","v":2.91},
      {"d":"2025-10-29","k":"e120","v":3.05},{"d":"2025-11-12","k":"e120","v":3.20},{"d":"2025-12-01","k":"e120","v":3.29},{"d":"2025-12-09","k":"e120","v":3.34},
      {"d":"2025-12-17","k":"e120","v":3.40},{"d":"2026-01-02","k":"e120","v":3.53},{"d":"2026-01-13","k":"e120","v":3.60},{"d":"2026-01-20","k":"e120","v":3.67},
      {"d":"2026-01-28","k":"e120","v":3.73},{"d":"2026-02-13","k":"e120","v":3.81},{"d":"2026-03-06","k":"e120","v":3.89},{"d":"2026-03-27","k":"e120","v":3.93},
      {"d":"2026-04-10","k":"e120","v":3.95},{"d":"2026-04-20","k":"e120","v":4.00},{"d":"2026-04-28","k":"e120","v":4.13},{"d":"2026-05-11","k":"e120","v":4.26},
      {"d":"2026-05-19","k":"e120","v":4.36},{"d":"2026-05-29","k":"e120","v":4.54},{"d":"2026-06-09","k":"e120","v":4.67},{"d":"2026-06-22","k":"e120","v":4.86},
      {"d":"2026-06-30","k":"e120","v":5.04},{"d":"2026-07-09","k":"e120","v":5.16},{"d":"2026-07-17","k":"e120","v":5.25},{"d":"2026-07-27","k":"e120","v":5.34},
      {"d":"2026-08-05","k":"e120","v":5.44},{"d":"2026-08-17","k":"e120","v":5.56},

      {"d":"2025-07-11","k":"s200","v":2.35},{"d":"2025-08-01","k":"s200","v":2.355},{"d":"2025-08-22","k":"s200","v":2.40},{"d":"2025-09-19","k":"s200","v":2.45},
      {"d":"2025-10-03","k":"s200","v":2.51},{"d":"2025-10-21","k":"s200","v":2.56},{"d":"2025-11-07","k":"s200","v":2.61},{"d":"2025-12-01","k":"s200","v":2.69},
      {"d":"2025-12-12","k":"s200","v":2.75},{"d":"2026-01-02","k":"s200","v":2.87},{"d":"2026-01-28","k":"s200","v":3.05},{"d":"2026-02-13","k":"s200","v":3.18},
      {"d":"2026-03-06","k":"s200","v":3.32},{"d":"2026-03-27","k":"s200","v":3.43},{"d":"2026-04-15","k":"s200","v":3.58},{"d":"2026-04-28","k":"s200","v":3.74},
      {"d":"2026-05-11","k":"s200","v":3.87},{"d":"2026-05-29","k":"s200","v":4.05},{"d":"2026-06-22","k":"s200","v":4.23},{"d":"2026-07-09","k":"s200","v":4.48},
      {"d":"2026-07-27","k":"s200","v":4.69},{"d":"2026-08-17","k":"s200","v":4.86},

      {"d":"2025-07-11","k":"macd","v":0.040},{"d":"2025-07-16","k":"macd","v":0.048},{"d":"2025-07-21","k":"macd","v":0.057},{"d":"2025-07-22","k":"macd","v":0.050},
      {"d":"2025-07-29","k":"macd","v":0.073},{"d":"2025-07-31","k":"macd","v":0.070},{"d":"2025-08-04","k":"macd","v":0.107},{"d":"2025-08-08","k":"macd","v":0.132},
      {"d":"2025-08-12","k":"macd","v":0.164},{"d":"2025-08-14","k":"macd","v":0.181},{"d":"2025-08-18","k":"macd","v":0.176},{"d":"2025-08-20","k":"macd","v":0.157},
      {"d":"2025-08-22","k":"macd","v":0.132},{"d":"2025-08-27","k":"macd","v":0.153},{"d":"2025-09-02","k":"macd","v":0.141},{"d":"2025-09-10","k":"macd","v":0.128},
      {"d":"2025-09-11","k":"macd","v":0.151},{"d":"2025-09-18","k":"macd","v":0.189},{"d":"2025-09-22","k":"macd","v":0.254},{"d":"2025-09-25","k":"macd","v":0.279},
      {"d":"2025-09-30","k":"macd","v":0.262},{"d":"2025-10-01","k":"macd","v":0.267},{"d":"2025-10-03","k":"macd","v":0.321},{"d":"2025-10-08","k":"macd","v":0.333},
      {"d":"2025-10-10","k":"macd","v":0.340},{"d":"2025-10-13","k":"macd","v":0.325},{"d":"2025-10-16","k":"macd","v":0.277},{"d":"2025-10-23","k":"macd","v":0.180},
      {"d":"2025-10-29","k":"macd","v":0.170},{"d":"2025-10-31","k":"macd","v":0.151},{"d":"2025-11-05","k":"macd","v":0.113},{"d":"2025-11-10","k":"macd","v":0.091},
      {"d":"2025-11-13","k":"macd","v":0.069},{"d":"2025-11-18","k":"macd","v":0.000},{"d":"2025-11-24","k":"macd","v":-0.075},{"d":"2025-11-28","k":"macd","v":-0.094},
      {"d":"2025-12-02","k":"macd","v":-0.082},{"d":"2025-12-05","k":"macd","v":-0.060},{"d":"2025-12-09","k":"macd","v":-0.038},{"d":"2025-12-12","k":"macd","v":0.013},
      {"d":"2025-12-17","k":"macd","v":0.069},{"d":"2025-12-23","k":"macd","v":0.113},{"d":"2025-12-29","k":"macd","v":0.103},{"d":"2026-01-05","k":"macd","v":0.078},
      {"d":"2026-01-08","k":"macd","v":0.073},{"d":"2026-01-14","k":"macd","v":0.138},{"d":"2026-01-16","k":"macd","v":0.123},{"d":"2026-01-22","k":"macd","v":0.113},
      {"d":"2026-01-28","k":"macd","v":0.031},{"d":"2026-01-30","k":"macd","v":0.010},{"d":"2026-02-04","k":"macd","v":0.015},{"d":"2026-02-05","k":"macd","v":-0.006},
      {"d":"2026-02-10","k":"macd","v":0.000},{"d":"2026-02-12","k":"macd","v":-0.010},{"d":"2026-02-19","k":"macd","v":-0.006},{"d":"2026-02-24","k":"macd","v":0.006},
      {"d":"2026-02-26","k":"macd","v":-0.006},{"d":"2026-02-27","k":"macd","v":0.015},{"d":"2026-03-03","k":"macd","v":0.010},{"d":"2026-03-05","k":"macd","v":-0.006},
      {"d":"2026-03-09","k":"macd","v":-0.025},{"d":"2026-03-11","k":"macd","v":-0.040},{"d":"2026-03-13","k":"macd","v":-0.044},{"d":"2026-03-17","k":"macd","v":-0.044},
      {"d":"2026-03-19","k":"macd","v":-0.031},{"d":"2026-03-26","k":"macd","v":-0.019},{"d":"2026-03-30","k":"macd","v":-0.025},{"d":"2026-04-02","k":"macd","v":-0.035},
      {"d":"2026-04-07","k":"macd","v":-0.044},{"d":"2026-04-09","k":"macd","v":-0.019},{"d":"2026-04-13","k":"macd","v":0.006},{"d":"2026-04-14","k":"macd","v":0.050},
      {"d":"2026-04-17","k":"macd","v":0.078},{"d":"2026-04-20","k":"macd","v":0.094},{"d":"2026-04-23","k":"macd","v":0.179},{"d":"2026-04-27","k":"macd","v":0.258},
      {"d":"2026-04-28","k":"macd","v":0.270},{"d":"2026-04-30","k":"macd","v":0.249},{"d":"2026-05-06","k":"macd","v":0.252},{"d":"2026-05-07","k":"macd","v":0.277},
      {"d":"2026-05-11","k":"macd","v":0.289},{"d":"2026-05-14","k":"macd","v":0.358},{"d":"2026-05-18","k":"macd","v":0.321},{"d":"2026-05-20","k":"macd","v":0.270},
      {"d":"2026-05-25","k":"macd","v":0.296},{"d":"2026-05-28","k":"macd","v":0.283},{"d":"2026-06-02","k":"macd","v":0.274},{"d":"2026-06-03","k":"macd","v":0.226},
      {"d":"2026-06-08","k":"macd","v":0.164},{"d":"2026-06-10","k":"macd","v":0.113},{"d":"2026-06-11","k":"macd","v":0.094},{"d":"2026-06-18","k":"macd","v":0.189},
      {"d":"2026-06-22","k":"macd","v":0.252},{"d":"2026-06-24","k":"macd","v":0.239},{"d":"2026-06-25","k":"macd","v":0.264},{"d":"2026-06-29","k":"macd","v":0.258},
      {"d":"2026-07-01","k":"macd","v":0.279},{"d":"2026-07-03","k":"macd","v":0.245},{"d":"2026-07-08","k":"macd","v":0.195},{"d":"2026-07-13","k":"macd","v":0.157},
      {"d":"2026-07-15","k":"macd","v":0.063},{"d":"2026-07-20","k":"macd","v":0.006},{"d":"2026-07-21","k":"macd","v":0.018},{"d":"2026-07-27","k":"macd","v":0.015},
      {"d":"2026-07-30","k":"macd","v":0.015},{"d":"2026-08-04","k":"macd","v":0.057},{"d":"2026-08-06","k":"macd","v":0.109},{"d":"2026-08-11","k":"macd","v":0.145},
      {"d":"2026-08-13","k":"macd","v":0.142},{"d":"2026-08-17","k":"macd","v":0.160},

      {"d":"2025-07-11","k":"sig","v":0.018},{"d":"2025-07-18","k":"sig","v":0.041},{"d":"2025-07-31","k":"sig","v":0.063},{"d":"2025-08-08","k":"sig","v":0.100},
      {"d":"2025-08-18","k":"sig","v":0.157},{"d":"2025-08-21","k":"sig","v":0.151},{"d":"2025-09-02","k":"sig","v":0.147},{"d":"2025-09-10","k":"sig","v":0.136},
      {"d":"2025-09-18","k":"sig","v":0.161},{"d":"2025-09-26","k":"sig","v":0.239},{"d":"2025-10-01","k":"sig","v":0.257},{"d":"2025-10-08","k":"sig","v":0.302},
      {"d":"2025-10-13","k":"sig","v":0.317},{"d":"2025-10-16","k":"sig","v":0.302},{"d":"2025-10-27","k":"sig","v":0.214},{"d":"2025-11-03","k":"sig","v":0.170},
      {"d":"2025-11-12","k":"sig","v":0.107},{"d":"2025-11-21","k":"sig","v":0.000},{"d":"2025-11-26","k":"sig","v":-0.050},{"d":"2025-12-02","k":"sig","v":-0.069},
      {"d":"2025-12-05","k":"sig","v":-0.057},{"d":"2025-12-16","k":"sig","v":-0.006},{"d":"2025-12-19","k":"sig","v":0.050},{"d":"2025-12-29","k":"sig","v":0.088},
      {"d":"2026-01-08","k":"sig","v":0.078},{"d":"2026-01-15","k":"sig","v":0.107},{"d":"2026-01-22","k":"sig","v":0.116},{"d":"2026-01-28","k":"sig","v":0.086},
      {"d":"2026-01-30","k":"sig","v":0.050},{"d":"2026-02-09","k":"sig","v":0.019},{"d":"2026-02-13","k":"sig","v":0.006},{"d":"2026-02-24","k":"sig","v":0.000},
      {"d":"2026-03-02","k":"sig","v":0.004},{"d":"2026-03-06","k":"sig","v":-0.006},{"d":"2026-03-12","k":"sig","v":-0.023},{"d":"2026-03-18","k":"sig","v":-0.034},
      {"d":"2026-03-30","k":"sig","v":-0.028},{"d":"2026-04-08","k":"sig","v":-0.031},{"d":"2026-04-10","k":"sig","v":-0.013},{"d":"2026-04-20","k":"sig","v":0.053},
      {"d":"2026-04-23","k":"sig","v":0.128},{"d":"2026-04-29","k":"sig","v":0.201},{"d":"2026-05-07","k":"sig","v":0.233},{"d":"2026-05-13","k":"sig","v":0.277},
      {"d":"2026-05-18","k":"sig","v":0.308},{"d":"2026-05-22","k":"sig","v":0.299},{"d":"2026-06-02","k":"sig","v":0.287},{"d":"2026-06-05","k":"sig","v":0.252},
      {"d":"2026-06-12","k":"sig","v":0.160},{"d":"2026-06-18","k":"sig","v":0.170},{"d":"2026-06-25","k":"sig","v":0.229},{"d":"2026-07-02","k":"sig","v":0.254},
      {"d":"2026-07-09","k":"sig","v":0.214},{"d":"2026-07-20","k":"sig","v":0.086},{"d":"2026-07-27","k":"sig","v":0.040},{"d":"2026-07-31","k":"sig","v":0.028},
      {"d":"2026-08-06","k":"sig","v":0.050},{"d":"2026-08-11","k":"sig","v":0.100},{"d":"2026-08-17","k":"sig","v":0.127},

      {"d":"2025-07-11","k":"rma","v":53.5},{"d":"2025-07-22","k":"rma","v":58.5},{"d":"2025-07-31","k":"rma","v":59.1},{"d":"2025-08-07","k":"rma","v":63.5},
      {"d":"2025-08-11","k":"rma","v":66.5},{"d":"2025-08-15","k":"rma","v":69.8},{"d":"2025-08-19","k":"rma","v":71.4},{"d":"2025-08-22","k":"rma","v":70.4},
      {"d":"2025-08-28","k":"rma","v":69.0},{"d":"2025-09-04","k":"rma","v":66.5},{"d":"2025-09-09","k":"rma","v":65.5},{"d":"2025-09-12","k":"rma","v":68.4},
      {"d":"2025-09-22","k":"rma","v":71.8},{"d":"2025-09-25","k":"rma","v":75.4},{"d":"2025-10-01","k":"rma","v":79.0},{"d":"2025-10-06","k":"rma","v":80.4},
      {"d":"2025-10-10","k":"rma","v":79.8},{"d":"2025-10-16","k":"rma","v":77.8},{"d":"2025-10-22","k":"rma","v":75.0},{"d":"2025-10-28","k":"rma","v":69.8},
      {"d":"2025-10-31","k":"rma","v":63.5},{"d":"2025-11-06","k":"rma","v":60.9},{"d":"2025-11-12","k":"rma","v":59.9},{"d":"2025-11-17","k":"rma","v":54.5},
      {"d":"2025-11-21","k":"rma","v":47.9},{"d":"2025-11-26","k":"rma","v":43.5},{"d":"2025-12-02","k":"rma","v":40.2},{"d":"2025-12-08","k":"rma","v":42.5},
      {"d":"2025-12-11","k":"rma","v":47.1},{"d":"2025-12-17","k":"rma","v":52.5},{"d":"2025-12-22","k":"rma","v":57.5},{"d":"2025-12-29","k":"rma","v":61.9},
      {"d":"2026-01-05","k":"rma","v":61.5},{"d":"2026-01-12","k":"rma","v":60.9},{"d":"2026-01-16","k":"rma","v":61.9},{"d":"2026-01-22","k":"rma","v":63.5},
      {"d":"2026-01-28","k":"rma","v":58.5},{"d":"2026-01-30","k":"rma","v":56.5},{"d":"2026-02-06","k":"rma","v":52.5},{"d":"2026-02-11","k":"rma","v":48.5},
      {"d":"2026-02-24","k":"rma","v":49.5},{"d":"2026-03-04","k":"rma","v":49.9},{"d":"2026-03-13","k":"rma","v":49.1},{"d":"2026-03-27","k":"rma","v":47.5},
      {"d":"2026-04-07","k":"rma","v":47.1},{"d":"2026-04-13","k":"rma","v":49.1},{"d":"2026-04-20","k":"rma","v":54.5},{"d":"2026-04-24","k":"rma","v":61.5},
      {"d":"2026-04-28","k":"rma","v":65.5},{"d":"2026-05-06","k":"rma","v":66.9},{"d":"2026-05-13","k":"rma","v":68.8},{"d":"2026-05-20","k":"rma","v":65.9},
      {"d":"2026-05-26","k":"rma","v":66.5},{"d":"2026-06-03","k":"rma","v":63.9},{"d":"2026-06-09","k":"rma","v":58.5},{"d":"2026-06-18","k":"rma","v":57.9},
      {"d":"2026-06-25","k":"rma","v":59.1},{"d":"2026-07-03","k":"rma","v":62.0},{"d":"2026-07-09","k":"rma","v":59.1},{"d":"2026-07-16","k":"rma","v":54.5},
      {"d":"2026-07-22","k":"rma","v":51.1},{"d":"2026-07-29","k":"rma","v":49.9},{"d":"2026-08-04","k":"rma","v":52.5},{"d":"2026-08-11","k":"rma","v":56.9},
      {"d":"2026-08-17","k":"rma","v":58.89}
    ],
    "fut": [
      {"d":"2026-08-18"},{"d":"2026-08-19"},{"d":"2026-08-20"},{"d":"2026-08-21"},{"d":"2026-08-24"},
      {"d":"2026-08-25"},{"d":"2026-08-26"},{"d":"2026-08-27"},{"d":"2026-09-01"}
    ],
    "chan": [
      {"g":"up","d":"2026-05-12","p":6.013},{"g":"up","d":"2026-08-14","p":7.468},
      {"g":"low","d":"2026-05-14","p":5.26},{"g":"low","d":"2026-08-14","p":5.90}
    ],
    "neck": [{"a":"2026-06-11","b":"2026-08-17","p":6.61}],
    "lv": [{"p":4.70},{"p":4.50},{"p":3.95}],
    "mk": [{"d":"2026-08-21","p":6.79,"t":"D"}]
  },
  "vconcat": [
    {
      "width": 1500,
      "height": 572,
      "encoding": {
        "x": {"field": "d", "type": "ordinal", "title": null, "scale": {"type": "band", "range": [-2.19, 1440.8], "paddingInner": 0, "paddingOuter": 0},
          "axis": {"title": null, "labels": false, "ticks": false, "domain": false, "grid": true, "bandPosition": 0.5,
            "values": ["2025-08-01","2025-09-02","2025-10-01","2025-11-03","2025-12-01","2026-01-02","2026-02-03","2026-03-02","2026-04-01","2026-05-04","2026-06-02","2026-07-01","2026-08-03","2026-09-01"]}}
      },
      "layer": [
        {
          "data": {"name": "bars"},
          "mark": {"type": "bar", "width": {"band": 0.75}, "opacity": 0.5, "clip": true},
          "encoding": {
            "y": {"field": "v", "type": "quantitative", "scale": {"domain": [0, 37], "nice": false, "zero": false}, "axis": null},
            "color": {"condition": {"test": "datum.c >= datum.o", "value": "#26a69a"}, "value": "#ef5350"}
          }
        },
        {
          "layer": [
            {
              "data": {"name": "lv"},
              "mark": {"type": "rule", "color": "#2962ff", "strokeDash": [2, 3], "strokeWidth": 1.5},
              "encoding": {
                "y": {"field": "p", "type": "quantitative", "title": null, "scale": {"domain": [1.545, 7.466], "nice": false, "zero": false},
                  "axis": {"title": null, "orient": "right", "values": [2, 2.5, 3, 3.5, 4, 4.5, 5, 5.5, 6, 6.5, 7], "format": ".2f", "labelPadding": -45, "labelAlign": "left", "grid": true}},
                "x": {"datum": "2025-07-11", "type": "ordinal"},
                "x2": {"datum": "2026-09-01"}
              }
            },
            {"data": {"name": "fut"}, "mark": {"type": "point", "opacity": 0}},
            {
              "data": {"name": "bars"},
              "mark": {"type": "rule", "color": "#131722", "strokeWidth": 1, "clip": true},
              "encoding": {"y": {"field": "l", "type": "quantitative", "title": null}, "y2": {"field": "h"}}
            },
            {
              "data": {"name": "bars"},
              "mark": {"type": "bar", "width": {"band": 0.62}, "stroke": "#131722", "strokeWidth": 1, "clip": true},
              "encoding": {
                "y": {"field": "o", "type": "quantitative", "title": null}, "y2": {"field": "c"},
                "color": {"condition": {"test": "datum.c >= datum.o", "value": "#4caf50"}, "value": "#f23645"}
              }
            },
            {
              "data": {"name": "ind"}, "transform": [{"filter": {"field": "k", "equal": "s200"}}],
              "mark": {"type": "line", "color": "#7e57c2", "strokeWidth": 1.3, "interpolate": "monotone"},
              "encoding": {"y": {"field": "v", "type": "quantitative", "title": null}}
            },
            {
              "data": {"name": "ind"}, "transform": [{"filter": {"field": "k", "equal": "e120"}}],
              "mark": {"type": "line", "color": "#4caf50", "strokeWidth": 1.3, "interpolate": "monotone"},
              "encoding": {"y": {"field": "v", "type": "quantitative", "title": null}}
            },
            {
              "data": {"name": "ind"}, "transform": [{"filter": {"field": "k", "equal": "e20"}}],
              "mark": {"type": "line", "color": "#f23645", "strokeWidth": 1.3, "interpolate": "monotone"},
              "encoding": {"y": {"field": "v", "type": "quantitative", "title": null}}
            },
            {
              "data": {"name": "ind"}, "transform": [{"filter": {"field": "k", "equal": "e9"}}],
              "mark": {"type": "line", "color": "#2962ff", "strokeWidth": 1.3, "interpolate": "monotone"},
              "encoding": {"y": {"field": "v", "type": "quantitative", "title": null}}
            },
            {
              "data": {"name": "chan"},
              "mark": {"type": "line", "color": "#ff9800", "strokeWidth": 3, "clip": true},
              "encoding": {"y": {"field": "p", "type": "quantitative", "title": null}, "detail": {"field": "g"}}
            },
            {
              "data": {"name": "neck"},
              "mark": {"type": "rule", "color": "#131722", "strokeWidth": 2},
              "encoding": {"x": {"field": "a", "type": "ordinal", "title": null}, "x2": {"field": "b"}, "y": {"field": "p", "type": "quantitative", "title": null}}
            },
            {
              "data": {"name": "lv"},
              "mark": {"type": "rect", "color": "#2962ff", "yOffset": -8, "y2Offset": 8},
              "encoding": {"x": {"value": 1447}, "x2": {"value": 1484}, "y": {"field": "p", "type": "quantitative", "title": null}, "y2": {"field": "p"}}
            },
            {
              "data": {"name": "lv"},
              "mark": {"type": "text", "color": "white", "fontSize": 12.5, "align": "center", "baseline": "middle"},
              "encoding": {"x": {"value": 1465.5}, "y": {"field": "p", "type": "quantitative", "title": null}, "text": {"field": "p", "format": ".2f"}}
            },
            {
              "data": {"name": "mk"},
              "mark": {"type": "point", "filled": true, "color": "#ffe4c2", "size": 300, "opacity": 1},
              "encoding": {"y": {"field": "p", "type": "quantitative", "title": null}}
            },
            {
              "data": {"name": "mk"},
              "mark": {"type": "text", "color": "#ff9800", "fontSize": 13, "fontWeight": "bold", "align": "center", "baseline": "middle"},
              "encoding": {"y": {"field": "p", "type": "quantitative", "title": null}, "text": {"field": "t"}}
            },
            {
              "data": {"values": [{}]},
              "mark": {"type": "text", "align": "left", "baseline": "top", "fontSize": 12.3, "color": "#131722", "lineHeight": 17},
              "encoding": {"x": {"value": 8}, "y": {"value": 7},
                "text": {"value": ["UWC Bhd. · 1D · MYX\u00a0\u00a0O6.70\u00a0\u00a0H6.89\u00a0\u00a0L6.60\u00a0\u00a0C6.86\u00a0\u00a0+0.16 (+2.39%)", "EMA (9, close)", "EMA (20, close)", "EMA (120, close)", "SMA (200, close)", "Vol"]}}
            },
            {"data": {"values": [{}]}, "mark": {"type": "text", "align": "left", "baseline": "middle", "fontSize": 12.3, "color": "#2962ff"}, "encoding": {"x": {"value": 91}, "y": {"value": 31.3}, "text": {"value": "6.63"}}},
            {"data": {"values": [{}]}, "mark": {"type": "text", "align": "left", "baseline": "middle", "fontSize": 12.3, "color": "#f23645"}, "encoding": {"x": {"value": 97}, "y": {"value": 48}, "text": {"value": "6.48"}}},
            {"data": {"values": [{}]}, "mark": {"type": "text", "align": "left", "baseline": "middle", "fontSize": 12.3, "color": "#4caf50"}, "encoding": {"x": {"value": 104}, "y": {"value": 64.7}, "text": {"value": "5.56"}}},
            {"data": {"values": [{}]}, "mark": {"type": "text", "align": "left", "baseline": "middle", "fontSize": 12.3, "color": "#7e57c2"}, "encoding": {"x": {"value": 103}, "y": {"value": 81.3}, "text": {"value": "4.86"}}},
            {"data": {"values": [{}]}, "mark": {"type": "text", "align": "left", "baseline": "middle", "fontSize": 12.3, "color": "#26a69a"}, "encoding": {"x": {"value": 32}, "y": {"value": 98.7}, "text": {"value": "1.75\u202fM"}}}
          ]
        }
      ],
      "resolve": {"scale": {"y": "independent"}}
    },
    {
      "width": 1500,
      "height": 150,
      "encoding": {
        "x": {"field": "d", "type": "ordinal", "title": null, "scale": {"type": "band", "range": [-2.19, 1440.8], "paddingInner": 0, "paddingOuter": 0},
          "axis": {"title": null, "labels": false, "ticks": false, "domain": false, "grid": true, "bandPosition": 0.5,
            "values": ["2025-08-01","2025-09-02","2025-10-01","2025-11-03","2025-12-01","2026-01-02","2026-02-03","2026-03-02","2026-04-01","2026-05-04","2026-06-02","2026-07-01","2026-08-03","2026-09-01"]}}
      },
      "layer": [
        {
          "data": {"name": "bars"},
          "transform": [{"window": [{"op": "lag", "field": "m", "as": "pm"}], "sort": [{"field": "d", "order": "ascending"}]}],
          "mark": {"type": "bar", "width": {"band": 0.75}, "clip": true},
          "encoding": {
            "y": {"field": "m", "type": "quantitative", "title": null, "scale": {"domain": [-0.151, 0.415], "nice": false, "zero": false},
              "axis": {"title": null, "orient": "right", "values": [0, 0.2, 0.4], "labelExpr": "datum.value > 0.3 ? '' : format(datum.value, '.3f')", "labelPadding": -45, "labelAlign": "left", "grid": true}},
            "y2": {"datum": 0},
            "color": {"condition": [
              {"test": "datum.m >= 0 && (datum.pm == null || datum.m >= datum.pm)", "value": "#26a69a"},
              {"test": "datum.m >= 0", "value": "#b2dfdb"},
              {"test": "datum.pm == null || datum.m < datum.pm", "value": "#ff5252"}
            ], "value": "#ffcdd2"}
          }
        },
        {
          "data": {"values": [{}]},
          "mark": {"type": "rule", "color": "#9598a1", "strokeDash": [4, 4], "strokeWidth": 1},
          "encoding": {"y": {"datum": 0, "type": "quantitative", "title": null}, "x": {"datum": "2025-07-11", "type": "ordinal"}, "x2": {"datum": "2026-09-01"}}
        },
        {"data": {"name": "fut"}, "mark": {"type": "point", "opacity": 0}},
        {
          "data": {"name": "ind"}, "transform": [{"filter": {"field": "k", "equal": "macd"}}],
          "mark": {"type": "line", "color": "#2962ff", "strokeWidth": 1.3, "interpolate": "monotone"},
          "encoding": {"y": {"field": "v", "type": "quantitative", "title": null}}
        },
        {
          "data": {"name": "ind"}, "transform": [{"filter": {"field": "k", "equal": "sig"}}],
          "mark": {"type": "line", "color": "#ff6d00", "strokeWidth": 1.3, "interpolate": "monotone"},
          "encoding": {"y": {"field": "v", "type": "quantitative", "title": null}}
        },
        {"data": {"values": [{}]}, "mark": {"type": "text", "align": "left", "baseline": "middle", "fontSize": 12.3, "color": "#131722"}, "encoding": {"x": {"value": 8}, "y": {"value": 14}, "text": {"value": "MACD (close, 12, 26, 9)"}}},
        {"data": {"values": [{}]}, "mark": {"type": "text", "align": "left", "baseline": "middle", "fontSize": 12.3, "color": "#26a69a"}, "encoding": {"x": {"value": 140}, "y": {"value": 14}, "text": {"value": "0.033"}}},
        {"data": {"values": [{}]}, "mark": {"type": "text", "align": "left", "baseline": "middle", "fontSize": 12.3, "color": "#2962ff"}, "encoding": {"x": {"value": 177}, "y": {"value": 14}, "text": {"value": "0.160"}}},
        {"data": {"values": [{}]}, "mark": {"type": "text", "align": "left", "baseline": "middle", "fontSize": 12.3, "color": "#ff6d00"}, "encoding": {"x": {"value": 213}, "y": {"value": 14}, "text": {"value": "0.127"}}}
      ]
    },
    {
      "width": 1500,
      "height": 143,
      "encoding": {
        "x": {"field": "d", "type": "ordinal", "title": null, "scale": {"type": "band", "range": [-2.19, 1440.8], "paddingInner": 0, "paddingOuter": 0},
          "axis": {"title": "TradingView", "titleFont": "Inter", "titleFontSize": 20, "titleFontWeight": 800, "titleColor": "#131722", "titleX": 38, "titleY": 30, "titleAlign": "left", "titleAnchor": "start", "titleBaseline": "middle",
            "labels": true, "labelAngle": 0, "labelPadding": -19, "labelOverlap": false, "ticks": false, "domain": false, "grid": true, "bandPosition": 0.5,
            "labelExpr": "datum.value == '2026-01-02' ? '2026' : timeFormat(toDate(datum.value + 'T00:00:00'), '%b')",
            "labelFontWeight": {"condition": {"test": "datum.value == '2026-01-02'", "value": "bold"}, "value": "normal"},
            "values": ["2025-08-01","2025-09-02","2025-10-01","2025-11-03","2025-12-01","2026-01-02","2026-02-03","2026-03-02","2026-04-01","2026-05-04","2026-06-02","2026-07-01","2026-08-03","2026-09-01"]}}
      },
      "layer": [
        {
          "layer": [
            {
              "data": {"values": [{}]},
              "mark": {"type": "rect", "color": "#7e57c2", "opacity": 0.1},
              "encoding": {"y": {"datum": 70, "type": "quantitative", "title": null, "scale": {"domain": [24.03, 93.32], "range": [116, 0], "nice": false, "zero": false},
                  "axis": {"title": null, "orient": "right", "values": [40, 60, 80], "format": ".2f", "labelPadding": -45, "labelAlign": "left", "grid": true}},
                "y2": {"datum": 30}, "x": {"datum": "2025-07-11", "type": "ordinal"}, "x2": {"datum": "2026-09-01"}}
            },
            {
              "data": {"values": [{"y": 70}, {"y": 30}]},
              "mark": {"type": "rule", "color": "#787b86", "strokeDash": [5, 4], "strokeWidth": 1},
              "encoding": {"y": {"field": "y", "type": "quantitative", "title": null}, "x": {"datum": "2025-07-11", "type": "ordinal"}, "x2": {"datum": "2026-09-01"}}
            },
            {
              "data": {"values": [{"y": 50}]},
              "mark": {"type": "rule", "color": "#787b86", "opacity": 0.5, "strokeDash": [5, 4], "strokeWidth": 1},
              "encoding": {"y": {"field": "y", "type": "quantitative", "title": null}, "x": {"datum": "2025-07-11", "type": "ordinal"}, "x2": {"datum": "2026-09-01"}}
            },
            {"data": {"name": "fut"}, "mark": {"type": "point", "opacity": 0}},
            {
              "data": {"name": "ind"}, "transform": [{"filter": {"field": "k", "equal": "rma"}}],
              "mark": {"type": "line", "color": "#fdd835", "strokeWidth": 1.3, "interpolate": "monotone"},
              "encoding": {"y": {"field": "v", "type": "quantitative", "title": null}}
            },
            {
              "data": {"name": "bars"},
              "mark": {"type": "line", "color": "#7e57c2", "strokeWidth": 1.2},
              "encoding": {"y": {"field": "r", "type": "quantitative", "title": null}}
            },
            {"data": {"values": [{}]}, "mark": {"type": "text", "align": "left", "baseline": "middle", "fontSize": 12.3, "color": "#131722"}, "encoding": {"x": {"value": 8}, "y": {"value": 14}, "text": {"value": "RSI (14, close)"}}},
            {"data": {"values": [{}]}, "mark": {"type": "text", "align": "left", "baseline": "middle", "fontSize": 12.3, "color": "#7e57c2"}, "encoding": {"x": {"value": 91}, "y": {"value": 14}, "text": {"value": "64.09"}}},
            {"data": {"values": [{}]}, "mark": {"type": "text", "align": "left", "baseline": "middle", "fontSize": 12.3, "color": "#f2c200"}, "encoding": {"x": {"value": 126}, "y": {"value": 14}, "text": {"value": "58.89"}}}
          ]
        },
        {
          "data": {"name": "bars"},
          "mark": {"type": "area", "color": {"gradient": "linear", "x1": 0, "y1": 0, "x2": 0, "y2": 1, "stops": [{"offset": 0, "color": "rgba(76,175,80,0.55)"}, {"offset": 1, "color": "rgba(76,175,80,0.04)"}]}},
          "encoding": {
            "y": {"field": "r", "type": "quantitative", "scale": {"domain": [70, 93.32], "range": [39.0, 0], "clamp": true, "nice": false, "zero": false}, "axis": null},
            "y2": {"datum": 70}
          }
        }
      ],
      "resolve": {"scale": {"y": "independent"}}
    }
  ]
}
